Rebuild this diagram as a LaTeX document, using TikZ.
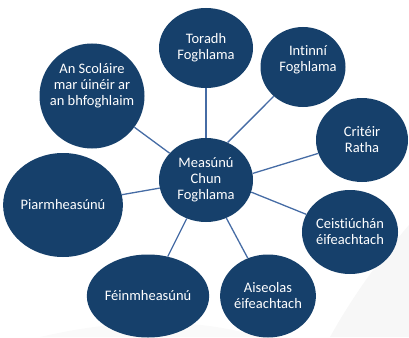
\documentclass[tikz,border=0pt]{standalone}
\usepackage{fontspec}
\setmainfont{Carlito}[Ligatures=NoCommon]
\usepackage{xcolor}
\usetikzlibrary{shapes.geometric}
\definecolor{bubble}{RGB}{22,64,107}
\definecolor{spoke}{RGB}{70,108,165}

\begin{document}
\begin{tikzpicture}[x=1pt,y=-1pt,
  bub/.style={ellipse,fill=bubble,text=white,inner sep=0pt,align=center,
    font=\fontsize{14.5}{16}\selectfont},
  bubtxt/.style={text=white,inner sep=0pt,align=center,
    font=\fontsize{14.5}{16}\selectfont},
  link/.style={spoke,line width=1.3pt}]
\useasboundingbox (0,0) rectangle (409,337);
% faint background swoosh
\fill[gray!6] (409,225) .. controls (370,270) and (345,310) .. (330,337) -- (409,337) -- cycle;
\fill[gray!4] (40,337) .. controls (120,318) and (200,318) .. (260,337) -- cycle;
\node[bub,minimum width=94pt,minimum height=84pt] (mcf) at (206,180) {Measúnú\\Chun\\Foghlama};
\node[bub,minimum width=94pt,minimum height=80pt] (toradh) at (206,48) {Toradh\\Foghlama};
\node[bub,minimum width=85pt,minimum height=80pt,
  label={[bubtxt,xshift=5pt,yshift=7pt]center:Intinní\\Foghlama}] (intinni) at (303,67) {};
\node[bub,minimum width=92pt,minimum height=84pt] (criteir) at (362,140) {Critéir\\Ratha};
\node[bub,minimum width=93pt,minimum height=84pt] (ceist) at (350,232) {Ceistiúchán\\éifeachtach};
\node[bub,minimum width=94pt,minimum height=83pt] (aiseolas) at (268,296) {Aiseolas\\éifeachtach};
\node[bub,minimum width=104pt,minimum height=83pt] (fein) at (148,296) {Féinmheasúnú};
\node[bub,minimum width=112pt,minimum height=104pt] (piar) at (63,205) {Piarmheasúnú};
\node[bub,minimum width=105pt,minimum height=105pt,
  label={[bubtxt,yshift=10pt]center:An Scoláire\\mar úinéir ar\\an bhfoghlaim}] (scolaire) at (92,96) {};
% spokes
\draw[link] (mcf) -- (toradh);
\draw[link] (mcf.60) -- (intinni);
\draw[link] (mcf.8) -- (criteir);
\draw[link] (mcf.-15) -- (ceist);
\draw[link] (mcf) -- (aiseolas);
\draw[link] (mcf) -- (fein);
\draw[link] (mcf) -- (piar);
\draw[link] (mcf) -- (scolaire);
\end{tikzpicture}
\end{document}
